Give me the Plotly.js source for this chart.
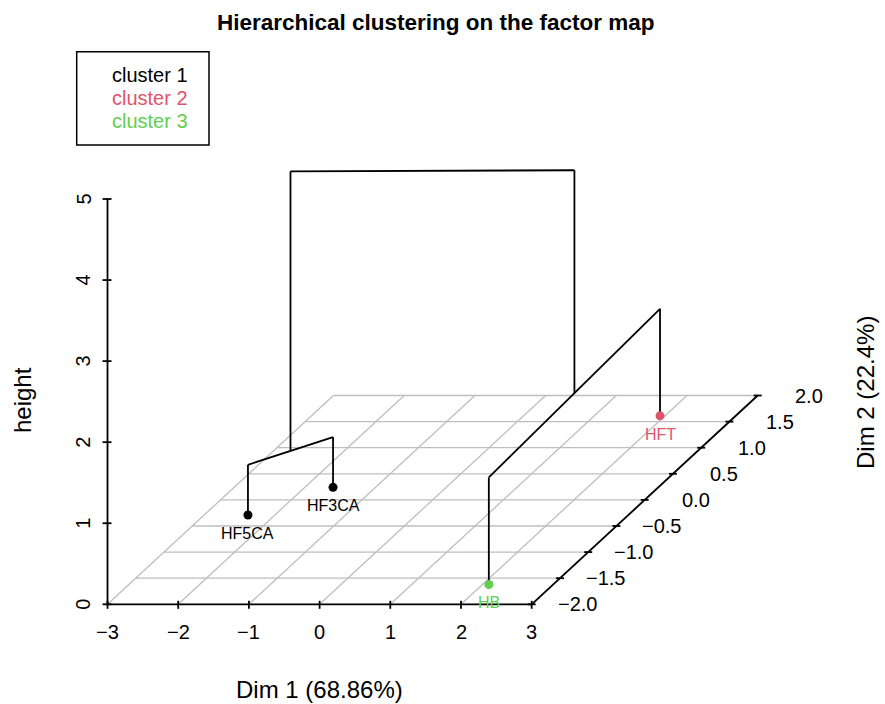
<!DOCTYPE html>
<html><head><meta charset="utf-8">
<script src="https://cdn.plot.ly/plotly-3.0.1.min.js"></script>
<style>html,body{margin:0;padding:0;background:#fff;}#chart{width:885px;height:704px;}</style>
</head><body><div id="chart"></div>
<script>
// ---------------- data ----------------
const individuals = ["HF5CA", "HF3CA", "HFT", "HB"];
const dim1 = [-2.38, -1.60, 1.93, 2.09];
const dim2 = [-0.29, 0.24, 1.61, -1.62];
const cluster = [1, 1, 2, 3];
// hclust-style merges: negative = individual (1-based), positive = earlier merge step
const mergeLeft = [-1, -3, 1];
const mergeRight = [-2, -4, 2];
const mergeHeight = [0.62, 1.32, 4.07];
const clusterNames = ["cluster 1", "cluster 2", "cluster 3"];
const xTicks = [-3, -2, -1, 0, 1, 2, 3];
const yTicks = [-2.0, -1.5, -1.0, -0.5, 0.0, 0.5, 1.0, 1.5, 2.0];
const zTicks = [0, 1, 2, 3, 4, 5];
const titleText = "Hierarchical clustering on the factor map";
const xLabel = "Dim 1 (68.86%)";
const yLabel = "Dim 2 (22.4%)";
const zLabel = "height";

// ---------------- style / projection ----------------
const W = 885, H = 704;
const FONT = "Liberation Sans, Arial, Helvetica, sans-serif";
const clusterColors = ["#000000", "#DF536B", "#61D04F"];
const X0 = 107.5, Y0 = 604.3;          // pixel position of (xmin, ymin, 0)
const SX = 70.7, SZ = 81.06;           // px per unit of Dim 1 / height
const SYX = 56.5, SYZ = 52.2;          // px per unit of Dim 2 (right, up)
const xmin = xTicks[0], xmax = xTicks[xTicks.length - 1];
const ymin = yTicks[0], ymax = yTicks[yTicks.length - 1];
const zmax = zTicks[zTicks.length - 1];
function U(x, y) { return x + (y - ymin) * SYX / SX; }
function V(y, z) { return z + (y - ymin) * SYZ / SZ; }
function fmt(v, d) { return (d ? v.toFixed(d) : String(v)).replace("-", "\u2212"); }

function seg(arr, p, q) {
  arr.x.push(U(p[0], p[1]), U(q[0], q[1]), null);
  arr.y.push(V(p[1], p[2]), V(q[1], q[2]), null);
}

// grid
const grid = {x: [], y: []};
yTicks.forEach(t => seg(grid, [xmin, t, 0], [xmax, t, 0]));
xTicks.forEach(t => seg(grid, [t, ymin, 0], [t, ymax, 0]));

// axes
const axes = {x: [], y: []};
seg(axes, [xmin, ymin, 0], [xmax, ymin, 0]);
seg(axes, [xmax, ymin, 0], [xmax, ymax, 0]);
seg(axes, [xmin, ymin, 0], [xmin, ymin, zmax]);
// tick marks (pixel-sized offsets)
xTicks.forEach(t => {
  const u = U(t, ymin), v = V(ymin, 0);
  axes.x.push(u, u, null); axes.y.push(v + 3.5 / SZ, v - 4.5 / SZ, null);
});
zTicks.forEach(t => {
  const u = U(xmin, ymin);
  axes.x.push(u - 5 / SX, u + 4 / SX, null); axes.y.push(t, t, null);
});
yTicks.forEach(t => {
  const u = U(xmax, t), v = V(t, 0);
  axes.x.push(u - 4 / SX, u + 4 / SX, null); axes.y.push(v, v, null);
});

// dendrogram
const tree = {x: [], y: []};
const nodes = [];
function nodeOf(id) {
  if (id < 0) { const i = -id - 1; return {x: dim1[i], y: dim2[i], h: 0}; }
  return nodes[id - 1];
}
mergeHeight.forEach((h, k) => {
  const a = nodeOf(mergeLeft[k]), b = nodeOf(mergeRight[k]);
  seg(tree, [a.x, a.y, a.h], [a.x, a.y, h]);
  seg(tree, [b.x, b.y, b.h], [b.x, b.y, h]);
  seg(tree, [a.x, a.y, h], [b.x, b.y, h]);
  nodes.push({x: (a.x + b.x) / 2, y: (a.y + b.y) / 2, h: h});
});

const traces = [
  {type: "scatter", mode: "lines", x: grid.x, y: grid.y, line: {color: "#BEBEBE", width: 1.3}, hoverinfo: "skip"},
  {type: "scatter", mode: "lines", x: axes.x, y: axes.y, line: {color: "#000000", width: 1.8}, hoverinfo: "skip"},
  {type: "scatter", mode: "lines", x: tree.x, y: tree.y, line: {color: "#000000", width: 1.8}, hoverinfo: "skip"},
  {type: "scatter", mode: "markers",
   x: dim1.map((d, i) => U(d, dim2[i])), y: dim2.map(d => V(d, 0)),
   marker: {size: 9, color: cluster.map(c => clusterColors[c - 1])},
   text: individuals, hoverinfo: "text"}
];

const ann = [];
// point labels
individuals.forEach((n, i) => ann.push({
  x: U(dim1[i], dim2[i]), y: V(dim2[i], 0), text: n, showarrow: false,
  xanchor: "center", yanchor: "middle",
  yshift: -18.5, font: {family: FONT, size: 16, color: clusterColors[cluster[i] - 1]}
}));
// tick labels
xTicks.forEach(t => ann.push({x: U(t, ymin), y: V(ymin, 0), text: fmt(t), showarrow: false,
  xanchor: "center", yanchor: "middle",
  yshift: -27.5, font: {family: FONT, size: 20, color: "#000"}}));
zTicks.forEach(t => ann.push({x: U(xmin, ymin), y: t, text: fmt(t), showarrow: false,
  xanchor: "center", yanchor: "middle",
  xshift: -24, textangle: -90, font: {family: FONT, size: 20, color: "#000"}}));
yTicks.forEach(t => ann.push({x: U(xmax, t), y: V(t, 0), text: fmt(t, 1), showarrow: false,
  xanchor: "right", yanchor: "middle", xshift: 67, font: {family: FONT, size: 20, color: "#000"}}));
// axis titles
function paper(px, py) { return {xref: "paper", yref: "paper", x: px / W, y: 1 - py / H,
  xanchor: "center", yanchor: "middle", showarrow: false}; }
ann.push(Object.assign(paper(319.5, 689), {text: xLabel,
  font: {family: FONT, size: 24, color: "#000"}}));
ann.push(Object.assign(paper(22, 400), {text: zLabel, textangle: -90,
  font: {family: FONT, size: 24, color: "#000"}}));
ann.push(Object.assign(paper(865, 393), {text: yLabel, textangle: -90,
  font: {family: FONT, size: 24, color: "#000"}}));
// title
ann.push(Object.assign(paper(436, 22), {text: "<b>" + titleText + "</b>",
  font: {family: FONT, size: 22.5, color: "#000"}}));
// legend text
clusterNames.forEach((n, i) => ann.push(Object.assign(paper(110, 75 + 23 * i),
  {text: n, xanchor: "left", font: {family: FONT, size: 20, color: clusterColors[i]}})));

const layout = {
  width: W, height: H,
  margin: {l: 0, r: 0, t: 0, b: 0},
  paper_bgcolor: "#fff", plot_bgcolor: "#fff",
  showlegend: false,
  xaxis: {range: [xmin - X0 / SX, xmin + (W - X0) / SX], visible: false, fixedrange: true},
  yaxis: {range: [-(H - Y0) / SZ, Y0 / SZ], visible: false, fixedrange: true},
  annotations: ann,
  shapes: [{type: "rect", xref: "paper", yref: "paper",
    x0: 76.7 / W, x1: 209 / W, y0: 1 - 145 / H, y1: 1 - 51.7 / H,
    line: {color: "#000", width: 1.5}}]
};
Plotly.newPlot("chart", traces, layout, {displayModeBar: false, staticPlot: true});
</script>
</body></html>
